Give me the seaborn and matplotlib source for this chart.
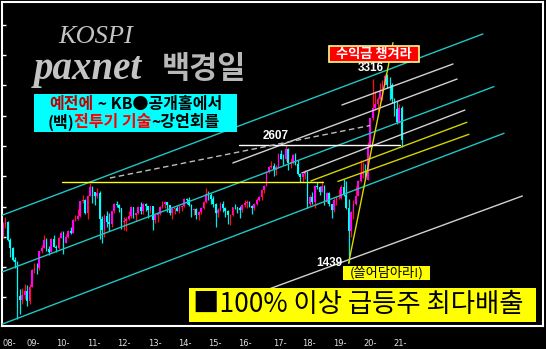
import numpy as np
import pandas as pd
import matplotlib
matplotlib.use("Agg")
import matplotlib.pyplot as plt
from matplotlib.patches import Rectangle
import seaborn as sns

W, H = 546, 349

# ---------------- data (monthly KOSPI candles) ----------------
months = pd.period_range("2008-04", "2022-01", freq="M")
first_open = 1704
closes = [
    1825, 1852, 1674, 1594, 1474, 1448, 1113, 1076, 1124,
    1162, 1063, 1206, 1369, 1395, 1390, 1557, 1591, 1673, 1581, 1555, 1682,
    1602, 1594, 1692, 1741, 1641, 1698, 1759, 1742, 1872, 1882, 1904, 2051,
    2069, 1939, 2106, 2192, 2142, 2100, 2133, 1880, 1770, 1909, 1847, 1826,
    1955, 2030, 2014, 1982, 1843, 1854, 1881, 1905, 1996, 1912, 1932, 1997,
    1961, 2027, 2005, 1963, 2001, 1863, 1914, 1926, 1997, 2030, 2044, 2011,
    1941, 1980, 1986, 1961, 1995, 2002, 2076, 2068, 2020, 1964, 1981, 1916,
    1949, 1986, 2041, 2127, 2115, 2074, 2030, 1941, 1963, 2029, 1991, 1961,
    1912, 1917, 1996, 1994, 1983, 1970, 2016, 2034, 2043, 2008, 1983, 2026,
    2067, 2091, 2160, 2205, 2347, 2392, 2402, 2363, 2394, 2523, 2476, 2467,
    2566, 2427, 2445, 2515, 2423, 2326, 2295, 2322, 2343, 2029, 2096, 2041,
    2204, 2195, 2140, 2203, 2041, 2130, 2024, 1967, 2063, 2083, 2087, 2197,
    2119, 1987, 1754, 1947, 2029, 2108, 2249, 2326, 2327, 2267, 2591, 2873,
    2976, 3013, 3061, 3147, 3203, 3296, 3202, 3199, 3068, 2970, 2839, 2977,
    2663,
]
highs = [
    1845, 1901, 1855, 1690, 1600, 1500, 1460, 1180, 1190,
    1230, 1220, 1230, 1380, 1440, 1440, 1560, 1620, 1723, 1690, 1610, 1690,
    1723, 1620, 1700, 1757, 1760, 1730, 1770, 1800, 1880, 1920, 1975, 2055,
    2115, 2075, 2110, 2231, 2200, 2145, 2185, 2150, 1905, 1930, 1960, 1940,
    1960, 2040, 2057, 2030, 1990, 1900, 1895, 1960, 2010, 2000, 1940, 2005,
    2042, 2034, 2040, 2010, 2010, 2010, 1920, 1935, 2010, 2060, 2060, 2050,
    2015, 1982, 1990, 2010, 2020, 2015, 2082, 2090, 2093, 2030, 1990, 1990,
    1960, 1990, 2055, 2189, 2150, 2130, 2100, 2040, 1990, 2050, 2060, 2000,
    1970, 1930, 2000, 2030, 2000, 2010, 2030, 2070, 2070, 2060, 2020, 2040,
    2090, 2100, 2170, 2210, 2355, 2400, 2453, 2430, 2410, 2530, 2560, 2520,
    2607, 2580, 2480, 2520, 2530, 2460, 2330, 2330, 2360, 2350, 2110, 2140,
    2210, 2240, 2200, 2250, 2210, 2140, 2140, 2030, 2090, 2100, 2170, 2210,
    2277, 2250, 2080, 1960, 2070, 2200, 2260, 2460, 2440, 2420, 2640, 2880,
    3266, 3140, 3090, 3220, 3250, 3316, 3310, 3280, 3220, 3080, 3050, 3020,
    3000,
]
lows = [
    1690, 1790, 1660, 1500, 1460, 1390, 892, 940, 1040,
    1090, 1018, 1040, 1200, 1340, 1330, 1370, 1540, 1590, 1560, 1520, 1550,
    1600, 1552, 1580, 1690, 1532, 1640, 1690, 1730, 1740, 1860, 1870, 1900,
    2040, 1923, 1882, 2100, 2040, 2020, 2090, 1684, 1644, 1700, 1800, 1760,
    1800, 1940, 2000, 1950, 1780, 1770, 1760, 1870, 1890, 1890, 1860, 1930,
    1930, 1925, 1960, 1890, 1940, 1770, 1840, 1850, 1920, 1990, 1990, 1950,
    1920, 1880, 1930, 1960, 1940, 1960, 1995, 2030, 2010, 1900, 1920, 1880,
    1870, 1930, 1980, 2040, 2070, 2030, 2000, 1800, 1900, 1960, 1950, 1900,
    1830, 1817, 1910, 1980, 1940, 1890, 1950, 2000, 1990, 2000, 1930, 1970,
    2020, 2060, 2070, 2130, 2200, 2330, 2380, 2300, 2310, 2390, 2470, 2410,
    2450, 2360, 2380, 2420, 2410, 2310, 2240, 2240, 2270, 1985, 2010, 2030,
    1990, 2170, 2110, 2140, 2020, 2040, 2010, 1891, 1950, 2020, 2080, 2080,
    2100, 1980, 1439, 1700, 1880, 2020, 2100, 2240, 2280, 2260, 2260, 2590,
    2860, 2960, 2950, 3060, 3060, 3200, 3170, 3060, 3030, 2900, 2820, 2830,
    2591,
]

# trend / channel lines drawn on the chart (start and end in year / index value)
line_names = ["ch_upper", "ch_mid", "ch_lower", "w1", "w2", "w3", "w4",
              "y1", "y2", "y_flat", "y_steep", "w_2607", "w_dash"]
line_start_year = [2008.19, 2008.19, 2008.19, 2019.98, 2016.22, 2018.60, 2016.81,
                   2018.91, 2019.84, 2010.33, 2020.21, 2016.43, 2011.98]
line_start_val = [1907, 1345, 828, 3006, 2432, 2333, 1115,
                  2254, 2249, 2240, 1439, 2607, 2283]
line_end_year = [2024.84, 2025.22, 2025.57, 2023.81, 2023.95, 2024.22, 2026.20,
                 2024.29, 2024.36, 2019.33, 2021.74, 2021.98, 2020.95]
line_end_val = [3709, 3188, 2726, 3412, 3263, 2956, 2105,
                2835, 2716, 2240, 3623, 2607, 2803]
line_colors = ["#22c4c4", "#22c4c4", "#22c4c4", "#d2d2d2", "#d2d2d2", "#d2d2d2", "#d2d2d2",
               "#d4d400", "#d4d400", "#ffff00", "#d8d800", "#ffffff", "#bdbdbd"]
line_patterns = ["solid"] * 12 + ["dash"]

y_ticks = [1100, 1400, 1700, 2000, 2300, 2600, 2900, 3200, 3500, 3800]
x_tick_years = [2008.50, 2009.33, 2010.36, 2011.43, 2012.47, 2013.53, 2014.57,
                2015.60, 2016.64, 2017.85, 2018.85, 2019.91, 2020.95, 2021.98]
x_tick_labels = ["08-", "09-", "10-", "11-", "12-", "13-", "14-",
                 "15-", "16-", "17-", "18-", "19-", "20-", "21-"]

peak_labels = ["3316", "2607", "1439"]

# ---------------- figure ----------------
sns.set_style("dark", {"axes.facecolor": "black", "figure.facecolor": "black"})
CJK = ["Noto Sans CJK KR", "DejaVu Sans"]
plt.rcParams["font.family"] = CJK

fig = plt.figure(figsize=(W / 100, H / 100), dpi=100, facecolor="black")
ax = fig.add_axes([2 / W, (H - 326) / H, 541 / W, 324 / H])
ax.set_facecolor("black")

t = months.year + (months.month - 0.5) / 12.0
t = np.asarray(t, dtype=float)
c = np.asarray(closes, dtype=float)
o = np.r_[first_open, c[:-1]]
hi = np.asarray(highs, dtype=float)
lo = np.asarray(lows, dtype=float)
up = c >= o

# wicks
ax.vlines(t[up], lo[up], hi[up], color="#ff1010", lw=0.9, zorder=2)
ax.vlines(t[~up], lo[~up], hi[~up], color="#00e8e8", lw=0.9, zorder=2)
# bodies
bw = 0.06
ax.bar(t[up], np.maximum(c[up] - o[up], 6), bottom=o[up], width=bw,
       color="#ff00ff", edgecolor="none", zorder=2.5)
ax.bar(t[~up], np.maximum(o[~up] - c[~up], 6), bottom=c[~up], width=bw,
       color="#00ffff", edgecolor="none", zorder=2.5)

# lines via seaborn
rows = []
for n, ys, vs, ye, ve, p in zip(line_names, line_start_year, line_start_val,
                                line_end_year, line_end_val, line_patterns):
    rows.append(dict(line=n, year=ys, value=vs, pattern=p))
    rows.append(dict(line=n, year=ye, value=ve, pattern=p))
lines_df = pd.DataFrame(rows)
sns.lineplot(data=lines_df, x="year", y="value", hue="line", style="pattern",
             palette=dict(zip(line_names, line_colors)),
             dashes={"solid": "", "dash": (4, 2.5)},
             estimator=None, sort=False, legend=False, lw=1.0, ax=ax, zorder=3)

x0 = 2008.81 + (2 - 18) / 29
x1 = 2008.81 + (543 - 18) / 29
ax.set_xlim(x0, x1)
ax.set_ylim(817.8, 4025.7)
ax.set_xlabel("")
ax.set_ylabel("")
ax.set_yticks(y_ticks)
ax.set_xticks(x_tick_years)
ax.set_xticklabels(x_tick_labels, color="#e0e0e0", fontsize=6, family="DejaVu Sans")
ax.tick_params(axis="y", direction="in", length=3, width=1, color="white",
               labelleft=False, left=True)
ax.tick_params(axis="x", length=0, pad=9)
ax.grid(False)
for s in ax.spines.values():
    s.set_visible(True)
    s.set_color("white")
    s.set_linewidth(1.5)


def P(x, y):
    return x / W, 1 - y / H


def box(x0p, y0p, x1p, y1p, fc, ec="none", lw=0):
    r = Rectangle(P(x0p, y1p), (x1p - x0p) / W, (y1p - y0p) / H,
                  transform=fig.transFigure, facecolor=fc, edgecolor=ec,
                  linewidth=lw, zorder=5)
    fig.add_artist(r)


renderer = fig.canvas.get_renderer()


def seg_line(cx, cy, segments, size, weight="bold"):
    arts = []
    for s, col in segments:
        a = fig.text(0, 0, s, color=col, fontsize=size, family=CJK,
                     weight=weight, ha="left", va="center", zorder=6)
        arts.append(a)
    widths = [a.get_window_extent(renderer).width for a in arts]
    x = cx - sum(widths) / 2
    for a, w in zip(arts, widths):
        a.set_position(P(x, cy))
        x += w


# title texts
fig.text(*P(96, 37), "KOSPI", color="#c4c4c4", fontsize=19, style="italic",
         family="Liberation Serif", ha="center", va="center")
fig.text(*P(34, 70), "paxnet", color="#c4c4c4", fontsize=28, style="italic",
         weight="bold", family="Liberation Serif", ha="left", va="center")
fig.text(*P(204, 69), "백경일", color="#b8b8b8", fontsize=22, weight="bold",
         family=CJK, ha="center", va="center")

# cyan box
box(34, 94, 237, 132, "#00ffff")
seg_line(135.5, 104, [("예전에", "#c00000"), (" ~ KB●공개홀에서", "black")], 11.5)
seg_line(134, 122, [("(백)", "black"), ("전투기 기술", "#ff0000"), ("~강연회를", "black")], 11.5)

# red box
box(329, 46, 419, 62, "#ff0000", ec="#ffff90", lw=1.2)
fig.text(*P(374, 54), "수익금 챙겨라", color="white", fontsize=9.5, weight="bold",
         family=CJK, ha="center", va="center", zorder=6)

# value labels
fig.text(*P(370.5, 68), peak_labels[0], color="white", fontsize=8.5, weight="bold",
         family="Liberation Sans", ha="center", va="center", zorder=6)
fig.text(*P(275.5, 136), peak_labels[1], color="white", fontsize=8.5, weight="bold",
         family="Liberation Sans", ha="center", va="center", zorder=6)
fig.text(*P(329, 263), peak_labels[2], color="white", fontsize=8.5, weight="bold",
         family="Liberation Sans", ha="center", va="center", zorder=6)

# small yellow box
box(343, 266, 430, 280, "#ffff00")
fig.text(*P(386.5, 273), "(쓸어담아라!)", color="black", fontsize=9.5,
         family=CJK, ha="center", va="center", zorder=6)

# big yellow box
box(189, 288, 536, 322, "#ffff00")
fig.text(*P(193, 305), "■100% 이상 급등주 최다배출", color="black", fontsize=19,
         family=CJK, ha="left", va="center", zorder=6)

fig.savefig("out.png", dpi=100, facecolor="black")
